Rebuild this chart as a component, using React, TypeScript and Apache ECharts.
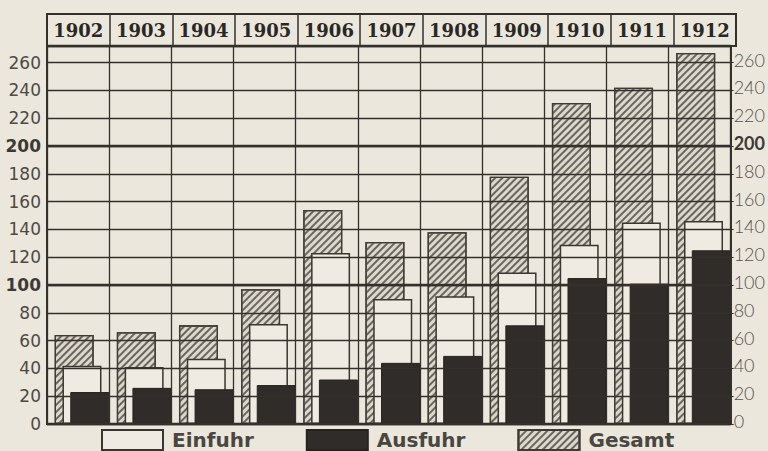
import React, { useEffect, useRef } from "react";
import * as echarts from "echarts";

const years = ["1902", "1903", "1904", "1905", "1906", "1907", "1908", "1909", "1910", "1911", "1912"];
const einfuhr = [42, 41, 47, 72, 123, 90, 92, 109, 129, 145, 146];
const ausfuhr = [23, 26, 25, 28, 32, 44, 49, 71, 105, 101, 125];
const gesamt = [64, 66, 71, 97, 154, 131, 138, 178, 231, 242, 267];
const boldValues = [100, 200];
const yMin = 0;
const yMax = 272;
const yStep = 20;
const boldStep = 100;

const BG = "#ebe7dc";
const INK = "#34312d";

export default function App() {
  const ref = useRef<HTMLDivElement>(null);
  useEffect(() => {
    document.body.style.margin = "0";
    const chart = echarts.init(ref.current!, null, { renderer: "svg" });
    const leftFmt = (v: number) => (v % yStep !== 0 ? "" : boldValues.includes(v) ? `{b|${v}}` : `${v}`);
    const rightFmt = (v: number) => (v % yStep !== 0 ? "" : v === 200 ? `{b|${v}}` : `${v}`);
    const hatch = {
      symbol: "rect",
      symbolSize: 1,
      dashArrayX: [1, 0],
      dashArrayY: [1.1, 2.7],
      rotation: -Math.PI / 4,
      color: "#6a665f",
    };
    const barBase = { type: "bar", xAxisIndex: 0, yAxisIndex: 0, barWidth: 39, barGap: "-80%", z: 2 };
    chart.setOption({
      animation: false,
      backgroundColor: BG,
      grid: [
        { left: 47, right: 32, top: 46, bottom: 27, show: false },
        { left: 47, right: 32, top: 14, height: 32, show: true, borderColor: INK, borderWidth: 2, backgroundColor: "transparent" },
      ],
      xAxis: [
        {
          type: "category", gridIndex: 0, data: years, z: 8,
          axisLabel: { show: false }, axisTick: { show: false },
          axisLine: { show: true, lineStyle: { color: INK, width: 2 } },
          splitLine: { show: true, interval: 0, lineStyle: { color: INK, width: 1.3 } },
        },
        {
          type: "category", gridIndex: 1, data: years, position: "top", z: 8,
          axisLine: { show: false }, axisTick: { show: false },
          splitLine: { show: true, interval: 0, lineStyle: { color: INK, width: 1.5 } },
          axisLabel: {
            inside: true, margin: 16, verticalAlign: "middle", interval: 0,
            fontFamily: "DejaVu Serif", fontWeight: "bold", fontSize: 18, color: "#2a2825",
          },
        },
      ],
      yAxis: [
        {
          type: "value", gridIndex: 0, min: yMin, max: yMax, interval: yStep, position: "left", z: 8,
          axisLine: { show: true, lineStyle: { color: INK, width: 2 } },
          axisTick: { show: false },
          splitLine: { show: true, lineStyle: { color: INK, width: 1.3 } },
          axisLabel: {
            formatter: leftFmt, margin: 6, showMaxLabel: false,
            fontFamily: "DejaVu Sans", fontSize: 17, color: "#4d4a45",
            rich: { b: { fontFamily: "DejaVu Sans", fontSize: 17, fontWeight: "bold", color: "#3d3a36" } },
          },
        },
        {
          type: "value", gridIndex: 0, min: yMin, max: yMax, interval: yStep, position: "right", z: 8,
          axisLine: { show: true, lineStyle: { color: INK, width: 2 } },
          axisTick: { show: true, length: 3, lineStyle: { color: INK } },
          splitLine: { show: false },
          axisLabel: {
            formatter: rightFmt, margin: 3, showMaxLabel: false, padding: [0, 0, 6, 0],
            fontFamily: "Lato", fontWeight: 300, fontSize: 18, color: "#55524c",
            rich: { b: { fontFamily: "Lato", fontSize: 18, fontWeight: "bold", color: "#3d3a36" } },
          },
        },
        {
          type: "value", gridIndex: 0, min: yMin, max: yMax, interval: boldStep, position: "left", z: 9,
          axisLine: { show: false }, axisTick: { show: false }, axisLabel: { show: false },
          splitLine: { show: true, lineStyle: { color: INK, width: 2.4 } },
        },
        { type: "value", gridIndex: 1, show: false, splitLine: { show: false } },
      ],
      legend: {
        left: 101, top: 429, padding: 0, itemWidth: 61, itemHeight: 20, itemGap: 52,
        icon: "rect",
        data: ["Einfuhr", "Ausfuhr", "Gesamt"],
        textStyle: { fontFamily: "DejaVu Sans", fontWeight: "bold", fontSize: 20, lineHeight: 20, color: "#4a4641", padding: [0, 0, 0, 4] },
      },
      series: [
        { ...barBase, name: "spacer", data: [], itemStyle: { color: "transparent" } },
        {
          ...barBase, name: "Gesamt", data: gesamt,
          itemStyle: { color: "#dcd8cc", borderColor: "#3f3c38", borderWidth: 1.3, decal: hatch },
        },
        {
          ...barBase, name: "Einfuhr", data: einfuhr,
          itemStyle: { color: "#efebe2", borderColor: "#3a3733", borderWidth: 1.5 },
        },
        {
          ...barBase, name: "Ausfuhr", data: ausfuhr,
          itemStyle: { color: "#2f2c29", borderColor: "#26231f", borderWidth: 1 },
        },
      ],
    });
    return () => chart.dispose();
  }, []);
  return <div ref={ref} style={{ position: "fixed", left: 0, top: 0, width: 768, height: 451, background: BG }} />;
}
